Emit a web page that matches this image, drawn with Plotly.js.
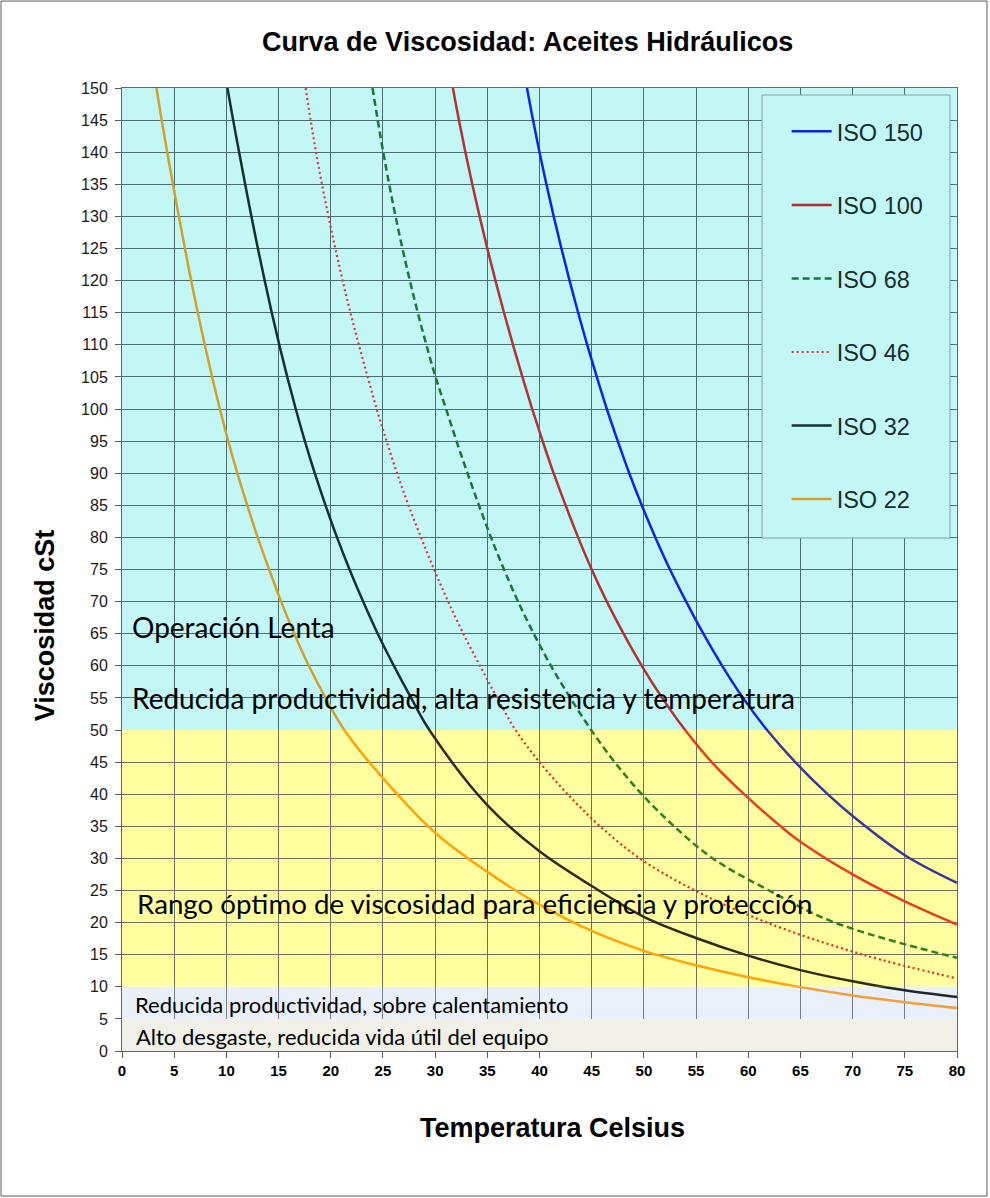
<!DOCTYPE html>
<html>
<head>
<meta charset="utf-8">
<script src="https://cdn.plot.ly/plotly-3.0.1.min.js"></script>
<style>
  html, body { margin: 0; padding: 0; background: #fff; }
  #chart { width: 990px; height: 1198px; }
</style>
</head>
<body>
<div id="chart"></div>
<script>
// ---- Data (Temperatura °C, Viscosidad cSt) ----
const seriesNames = ["ISO 150", "ISO 100", "ISO 68", "ISO 46", "ISO 32", "ISO 22"];

const iso150T = [38.8, 39.38, 40.0, 40.66, 41.36, 42.1, 42.88, 43.7, 44.57, 45.49, 46.45, 47.5, 48.6, 49.8, 51.1, 52.5, 54.05, 55.7, 57.5, 59.5, 61.8, 64.5, 67.6, 70, 75, 80];
const iso150V = [150, 145, 140, 135, 130, 125, 120, 115, 110, 105, 100, 95, 90, 85, 80, 75, 70, 65, 60, 55, 50, 45, 40, 36.6, 30.5, 26.2];

const iso100T = [31.7, 32.28, 32.9, 33.56, 34.26, 35.0, 35.78, 36.6, 37.46, 38.36, 39.3, 40.3, 41.35, 42.5, 43.7, 45.0, 46.45, 48.05, 49.8, 51.75, 53.95, 56.5, 59.6, 63.1, 65, 70, 75, 80];
const iso100V = [150, 145, 140, 135, 130, 125, 120, 115, 110, 105, 100, 95, 90, 85, 80, 75, 70, 65, 60, 55, 50, 45, 40, 35, 32.6, 27.5, 23.3, 19.7];

const iso68T = [24.0, 24.5, 25.03, 25.6, 26.21, 26.87, 27.58, 28.34, 29.16, 30.04, 31.05, 32.05, 33.1, 34.2, 35.35, 36.6, 37.95, 39.45, 41.1, 42.95, 44.95, 47.2, 49.8, 52.9, 56.6, 62.0, 68.3, 80];
const iso68V = [150, 145, 140, 135, 130, 125, 120, 115, 110, 105, 100, 95, 90, 85, 80, 75, 70, 65, 60, 55, 50, 45, 40, 35, 30, 25, 20, 14.5];

const iso46T = [17.6, 18.07, 18.59, 19.16, 19.78, 20.44, 21.14, 21.89, 22.69, 23.54, 24.4, 25.35, 26.35, 27.45, 28.65, 29.9, 31.25, 32.7, 34.3, 35.95, 37.7, 40.0, 42.7, 45.8, 49.6, 54.9, 61.8, 71.0, 80];
const iso46V = [150, 145, 140, 135, 130, 125, 120, 115, 110, 105, 100, 95, 90, 85, 80, 75, 70, 65, 60, 55, 50, 45, 40, 35, 30, 25, 20, 15, 11.3];

const iso32T = [10.1, 10.65, 11.22, 11.8, 12.4, 13.02, 13.67, 14.35, 15.07, 15.83, 16.65, 17.52, 18.47, 19.5, 20.6, 21.8, 23.1, 24.5, 26.05, 27.7, 29.45, 35, 40, 45, 50, 55, 60, 65, 70, 75, 80];
const iso32V = [150, 145, 140, 135, 130, 125, 120, 115, 110, 105, 100, 95, 90, 85, 80, 75, 70, 65, 60, 55, 50, 38.3, 31.1, 25.7, 20.9, 17.6, 14.85, 12.6, 10.85, 9.45, 8.4];

const iso22T = [3.3, 3.8, 4.33, 4.88, 5.45, 6.03, 6.63, 7.26, 7.93, 8.63, 9.38, 10.18, 11.05, 12.0, 13.0, 14.1, 15.25, 16.5, 17.9, 19.5, 21.3, 25, 30, 35, 40, 45, 50, 55, 60, 65, 70, 75, 80];
const iso22V = [150, 145, 140, 135, 130, 125, 120, 115, 110, 105, 100, 95, 90, 85, 80, 75, 70, 65, 60, 55, 50, 42.5, 34.0, 27.9, 22.8, 18.7, 15.6, 13.35, 11.5, 9.95, 8.65, 7.6, 6.7];

// Zones (cSt ranges) and their labels
const zoneLow  = [50, 10, 5, 0];
const zoneHigh = [150, 50, 10, 5];
const zoneLabels = [
  "Operación Lenta",
  "Reducida productividad, alta resistencia y temperatura",
  "Rango óptimo de viscosidad para eficiencia y protección",
  "Reducida productividad, sobre calentamiento",
  "Alto desgaste, reducida vida útil del equipo"
];
const zoneLabelV = [66, 55, 23, 7.3, 2.2];

const titleText = "Curva de Viscosidad: Aceites Hidráulicos";
const xTitleText = "Temperatura Celsius";
const yTitleText = "Viscosidad cSt";

// ---- Styles ----
const xs = [iso150T, iso100T, iso68T, iso46T, iso32T, iso22T];
const ys = [iso150V, iso100V, iso68V, iso46V, iso32V, iso22V];
const dashes = ["solid", "solid", "7px,4px", "2px,3px", "solid", "solid"];
const widths = [2.5, 2.5, 2.5, 2.2, 2.5, 2.5];
// line colour as it appears inside each coloured zone (cyan, yellow, light blue)
const zoneLineColors = [
  ["rgb(15,35,235)", "rgb(178,50,50)", "rgb(25,120,55)", "rgb(215,55,65)", "rgb(20,48,48)", "rgb(208,162,45)"],
  ["rgb(55,55,155)", "rgb(232,62,30)", "rgb(45,130,30)", "rgb(240,35,30)", "rgb(45,45,22)", "rgb(255,165,10)"],
  ["rgb(55,55,155)", "rgb(232,62,30)", "rgb(45,130,30)", "rgb(240,35,30)", "rgb(35,38,45)", "rgb(242,160,60)"]
];
const bandFill = ["rgb(195,247,245)", "rgb(255,255,160)", "rgb(234,240,250)", "rgb(240,239,232)"];
const bandGrid = ["rgb(72,112,112)", "rgb(112,112,92)", "rgb(120,125,135)", "rgb(125,125,120)"];

const traces = [];
for (let z = 0; z < 3; z++) {
  seriesNames.forEach((n, i) => {
    traces.push({
      type: "scatter", mode: "lines", name: n, legendgroup: n, showlegend: z === 0,
      x: xs[i], y: ys[i],
      xaxis: "x" + (z + 2), yaxis: "y" + (z + 2),
      line: { color: zoneLineColors[z][i], width: widths[i], dash: dashes[i], shape: "spline", smoothing: 1 },
      hoverinfo: "x+y+name"
    });
  });
}

const shapes = [];
zoneLow.forEach((lo, i) => {
  shapes.push({ type: "rect", xref: "x", yref: "y", x0: 0, x1: 80, y0: lo, y1: zoneHigh[i],
    fillcolor: bandFill[i], line: { width: 0 }, layer: "below" });
});
// legend box
shapes.push({ type: "rect", xref: "paper", yref: "paper", x0: 0.7665, x1: 0.9916, y0: 0.5327, y1: 0.9927,
  fillcolor: "rgb(195,247,245)", line: { color: "rgb(135,160,160)", width: 1 }, layer: "above" });
// outer frame
shapes.push({ type: "rect", xref: "paper", yref: "paper", x0: -0.1449, x1: 1.0359, y0: -0.1506, y1: 1.0903,
  fillcolor: "rgba(0,0,0,0)", line: { color: "rgb(90,90,90)", width: 1 }, layer: "above" });

const annFont = "Lato, 'Open Sans', sans-serif";
const annSizes = [28, 28, 27.7, 22, 22];
const annX = [0.0096, 0.0096, 0.0156, 0.0132, 0.0144];
const annotations = zoneLabels.map((t, i) => ({
  xref: "paper", yref: "y", x: annX[i], y: zoneLabelV[i],
  xanchor: "left", yanchor: "middle", showarrow: false, text: t,
  font: { family: annFont, size: annSizes[i], color: "black" }
}));
annotations.push({ xref: "paper", yref: "paper", x: -0.0922, y: 0.442, textangle: -90, showarrow: false,
  xanchor: "center", yanchor: "middle", text: "<b>" + yTitleText + "</b>",
  font: { family: "Liberation Sans, Arial, sans-serif", size: 27, color: "black" } });
annotations.push({ xref: "paper", yref: "paper", x: 0.515, y: -0.08, showarrow: false,
  xanchor: "center", yanchor: "middle", text: "<b>" + xTitleText + "</b>",
  font: { family: "Liberation Sans, Arial, sans-serif", size: 27, color: "black" } });

const layout = {
  width: 990, height: 1198,
  margin: { l: 122, r: 33, t: 88, b: 147 },
  paper_bgcolor: "white", plot_bgcolor: "rgba(0,0,0,0)",
  title: { text: "<b>" + titleText + "</b>", x: 0.533, xanchor: "center", y: 0.965, yanchor: "middle",
    font: { family: "Liberation Sans, Arial, sans-serif", size: 27, color: "black" } },
  xaxis: {
    range: [0, 80], dtick: 5, tick0: 0, showgrid: false,
    ticks: "outside", ticklen: 6, tickcolor: "rgb(90,90,90)", showline: true, linecolor: "rgb(95,105,105)", mirror: true,
    zeroline: false, tickfont: { family: "'Liberation Sans Narrow', 'Arial Narrow', 'Liberation Sans', sans-serif", size: 15, color: "black", weight: "bold" }
  },
  yaxis: {
    range: [0, 150], dtick: 5, tick0: 0, showgrid: false,
    ticks: "outside", ticklen: 6, tickcolor: "rgb(90,90,90)", showline: true, linecolor: "rgb(95,105,105)", mirror: true,
    zeroline: false, ticklabelstandoff: 4,
    tickfont: { family: "Liberation Sans, Arial, sans-serif", size: 16, color: "rgb(25,25,25)" }
  },
  showlegend: true,
  legend: {
    x: 0.796, y: 0.9776, xanchor: "left", yanchor: "top",
    bgcolor: "rgba(0,0,0,0)", borderwidth: 0,
    traceorder: "grouped", tracegroupgap: 40, itemwidth: 40,
    font: { family: "Liberation Sans, Arial, sans-serif", size: 23.5, color: "rgb(25,45,45)" }
  },
  shapes: shapes,
  annotations: annotations
};

// one overlaid subplot per coloured zone, so each zone clips its own part of every curve
for (let z = 0; z < 4; z++) {
  const k = z + 2;
  layout["xaxis" + k] = {
    range: [0, 80], dtick: 5, tick0: 0, domain: [0, 1], anchor: "y" + k,
    showgrid: true, gridcolor: bandGrid[z], gridwidth: 1,
    showticklabels: false, ticks: "", showline: false, zeroline: false
  };
  layout["yaxis" + k] = {
    range: [zoneLow[z], zoneHigh[z]], dtick: 5, tick0: 0,
    domain: [zoneLow[z] / 150, zoneHigh[z] / 150], anchor: "x" + k,
    showgrid: true, gridcolor: bandGrid[z], gridwidth: 1,
    showticklabels: false, ticks: "", showline: false, zeroline: false
  };
}

Plotly.newPlot("chart", traces, layout, { displayModeBar: false, staticPlot: true });
</script>
</body>
</html>
